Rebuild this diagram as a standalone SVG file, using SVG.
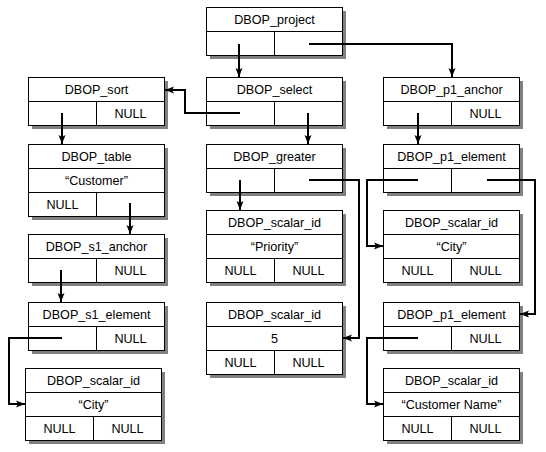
<svg xmlns="http://www.w3.org/2000/svg" width="546" height="452" viewBox="0 0 546 452">
<defs>
<style>
.sh{fill:#808080}
.bx{fill:#fff;stroke:#000;stroke-width:1}
.ln{stroke:#000;stroke-width:1}
.t{font-family:"Liberation Sans",Arial,sans-serif;font-size:12.6px;fill:#000;text-anchor:middle}
.c{fill:none;stroke:#000;stroke-width:2}
</style>
<marker id="ah" markerWidth="10" markerHeight="8" refX="9" refY="4" orient="auto" markerUnits="userSpaceOnUse">
<path d="M0,0.5 L9,4 L0,7.5 L2,4 z" fill="#000"/>
</marker>
</defs>
<rect width="546" height="452" fill="#fff"/>

<g id="project">
<rect class="sh" x="210" y="11" width="136" height="48"/>
<rect class="bx" x="206.5" y="7.5" width="136" height="48"/>
<line class="ln" x1="206.5" y1="31.5" x2="342.5" y2="31.5"/>
<line class="ln" x1="274.5" y1="31.5" x2="274.5" y2="55.5"/>
<text class="t" x="274.5" y="24">DBOP_project</text>
</g>

<g id="sort">
<rect class="sh" x="32" y="81" width="136" height="48"/>
<rect class="bx" x="28.5" y="77.5" width="136" height="48"/>
<line class="ln" x1="28.5" y1="101.5" x2="164.5" y2="101.5"/>
<line class="ln" x1="96.5" y1="101.5" x2="96.5" y2="125.5"/>
<text class="t" x="96.5" y="94">DBOP_sort</text>
<text class="t" x="130.5" y="118">NULL</text>
</g>

<g id="select">
<rect class="sh" x="210" y="81" width="136" height="48"/>
<rect class="bx" x="206.5" y="77.5" width="136" height="48"/>
<line class="ln" x1="206.5" y1="101.5" x2="342.5" y2="101.5"/>
<line class="ln" x1="274.5" y1="101.5" x2="274.5" y2="125.5"/>
<text class="t" x="274.5" y="94">DBOP_select</text>
</g>

<g id="p1_anchor">
<rect class="sh" x="387" y="81" width="136" height="48"/>
<rect class="bx" x="383.5" y="77.5" width="136" height="48"/>
<line class="ln" x1="383.5" y1="101.5" x2="519.5" y2="101.5"/>
<line class="ln" x1="451.5" y1="101.5" x2="451.5" y2="125.5"/>
<text class="t" x="451.5" y="94">DBOP_p1_anchor</text>
<text class="t" x="485.5" y="118">NULL</text>
</g>

<g id="table">
<rect class="sh" x="32" y="148" width="136" height="72"/>
<rect class="bx" x="28.5" y="144.5" width="136" height="72"/>
<line class="ln" x1="28.5" y1="168.5" x2="164.5" y2="168.5"/>
<line class="ln" x1="28.5" y1="192.5" x2="164.5" y2="192.5"/>
<line class="ln" x1="96.5" y1="192.5" x2="96.5" y2="216.5"/>
<text class="t" x="96.5" y="161">DBOP_table</text>
<text class="t" x="96.5" y="185">“Customer”</text>
<text class="t" x="62.5" y="209">NULL</text>
</g>

<g id="greater">
<rect class="sh" x="210" y="148" width="136" height="48"/>
<rect class="bx" x="206.5" y="144.5" width="136" height="48"/>
<line class="ln" x1="206.5" y1="168.5" x2="342.5" y2="168.5"/>
<line class="ln" x1="274.5" y1="168.5" x2="274.5" y2="192.5"/>
<text class="t" x="274.5" y="161">DBOP_greater</text>
</g>

<g id="p1_element_1">
<rect class="sh" x="387" y="148" width="136" height="48"/>
<rect class="bx" x="383.5" y="144.5" width="136" height="48"/>
<line class="ln" x1="383.5" y1="168.5" x2="519.5" y2="168.5"/>
<line class="ln" x1="451.5" y1="168.5" x2="451.5" y2="192.5"/>
<text class="t" x="451.5" y="161">DBOP_p1_element</text>
</g>

<g id="scalar_priority">
<rect class="sh" x="210" y="214" width="136" height="72"/>
<rect class="bx" x="206.5" y="210.5" width="136" height="72"/>
<line class="ln" x1="206.5" y1="234.5" x2="342.5" y2="234.5"/>
<line class="ln" x1="206.5" y1="258.5" x2="342.5" y2="258.5"/>
<line class="ln" x1="274.5" y1="258.5" x2="274.5" y2="282.5"/>
<text class="t" x="274.5" y="227">DBOP_scalar_id</text>
<text class="t" x="274.5" y="251">“Priority”</text>
<text class="t" x="240.5" y="275">NULL</text>
<text class="t" x="308.5" y="275">NULL</text>
</g>

<g id="scalar_city_r">
<rect class="sh" x="387" y="214" width="136" height="72"/>
<rect class="bx" x="383.5" y="210.5" width="136" height="72"/>
<line class="ln" x1="383.5" y1="234.5" x2="519.5" y2="234.5"/>
<line class="ln" x1="383.5" y1="258.5" x2="519.5" y2="258.5"/>
<line class="ln" x1="451.5" y1="258.5" x2="451.5" y2="282.5"/>
<text class="t" x="451.5" y="227">DBOP_scalar_id</text>
<text class="t" x="451.5" y="251">“City”</text>
<text class="t" x="417.5" y="275">NULL</text>
<text class="t" x="485.5" y="275">NULL</text>
</g>

<g id="s1_anchor">
<rect class="sh" x="32" y="238" width="136" height="48"/>
<rect class="bx" x="28.5" y="234.5" width="136" height="48"/>
<line class="ln" x1="28.5" y1="258.5" x2="164.5" y2="258.5"/>
<line class="ln" x1="96.5" y1="258.5" x2="96.5" y2="282.5"/>
<text class="t" x="96.5" y="251">DBOP_s1_anchor</text>
<text class="t" x="130.5" y="275">NULL</text>
</g>

<g id="s1_element">
<rect class="sh" x="32" y="306" width="136" height="48"/>
<rect class="bx" x="28.5" y="302.5" width="136" height="48"/>
<line class="ln" x1="28.5" y1="326.5" x2="164.5" y2="326.5"/>
<line class="ln" x1="96.5" y1="326.5" x2="96.5" y2="350.5"/>
<text class="t" x="96.5" y="319">DBOP_s1_element</text>
<text class="t" x="130.5" y="343">NULL</text>
</g>

<g id="scalar_5">
<rect class="sh" x="210" y="306" width="136" height="72"/>
<rect class="bx" x="206.5" y="302.5" width="136" height="72"/>
<line class="ln" x1="206.5" y1="326.5" x2="342.5" y2="326.5"/>
<line class="ln" x1="206.5" y1="350.5" x2="342.5" y2="350.5"/>
<line class="ln" x1="274.5" y1="350.5" x2="274.5" y2="374.5"/>
<text class="t" x="274.5" y="319">DBOP_scalar_id</text>
<text class="t" x="274.5" y="343">5</text>
<text class="t" x="240.5" y="367">NULL</text>
<text class="t" x="308.5" y="367">NULL</text>
</g>

<g id="p1_element_2">
<rect class="sh" x="387" y="306" width="136" height="48"/>
<rect class="bx" x="383.5" y="302.5" width="136" height="48"/>
<line class="ln" x1="383.5" y1="326.5" x2="519.5" y2="326.5"/>
<line class="ln" x1="451.5" y1="326.5" x2="451.5" y2="350.5"/>
<text class="t" x="451.5" y="319">DBOP_p1_element</text>
<text class="t" x="485.5" y="343">NULL</text>
</g>

<g id="scalar_city_l">
<rect class="sh" x="29" y="372" width="136" height="72"/>
<rect class="bx" x="25.5" y="368.5" width="136" height="72"/>
<line class="ln" x1="25.5" y1="392.5" x2="161.5" y2="392.5"/>
<line class="ln" x1="25.5" y1="416.5" x2="161.5" y2="416.5"/>
<line class="ln" x1="93.5" y1="416.5" x2="93.5" y2="440.5"/>
<text class="t" x="93.5" y="385">DBOP_scalar_id</text>
<text class="t" x="93.5" y="409">“City”</text>
<text class="t" x="59.5" y="433">NULL</text>
<text class="t" x="127.5" y="433">NULL</text>
</g>

<g id="scalar_custname">
<rect class="sh" x="387" y="372" width="136" height="72"/>
<rect class="bx" x="383.5" y="368.5" width="136" height="72"/>
<line class="ln" x1="383.5" y1="392.5" x2="519.5" y2="392.5"/>
<line class="ln" x1="383.5" y1="416.5" x2="519.5" y2="416.5"/>
<line class="ln" x1="451.5" y1="416.5" x2="451.5" y2="440.5"/>
<text class="t" x="451.5" y="385">DBOP_scalar_id</text>
<text class="t" x="451.5" y="409">“Customer Name”</text>
<text class="t" x="417.5" y="433">NULL</text>
<text class="t" x="485.5" y="433">NULL</text>
</g>

<g id="connectors">
<path class="c" marker-end="url(#ah)" d="M239,44 V77"/>
<path class="c" marker-end="url(#ah)" d="M309,44 H452 V77"/>
<path class="c" marker-end="url(#ah)" d="M240,113 H185 V90 H165"/>
<path class="c" marker-end="url(#ah)" d="M308,113 V144"/>
<path class="c" marker-end="url(#ah)" d="M62,113 V144"/>
<path class="c" marker-end="url(#ah)" d="M418,113 V144"/>
<path class="c" marker-end="url(#ah)" d="M130,203 V234"/>
<path class="c" marker-end="url(#ah)" d="M61,270 V302"/>
<path class="c" marker-end="url(#ah)" d="M240,180 V210"/>
<path class="c" marker-end="url(#ah)" d="M309,180 H359 V338 H343"/>
<path class="c" marker-end="url(#ah)" d="M418,180 H367 V246 H383"/>
<path class="c" marker-end="url(#ah)" d="M487,180 H535 V314 H520"/>
<path class="c" marker-end="url(#ah)" d="M418,338 H367 V404 H383"/>
<path class="c" marker-end="url(#ah)" d="M62,338 H9 V404 H25"/>
</g>
</svg>
